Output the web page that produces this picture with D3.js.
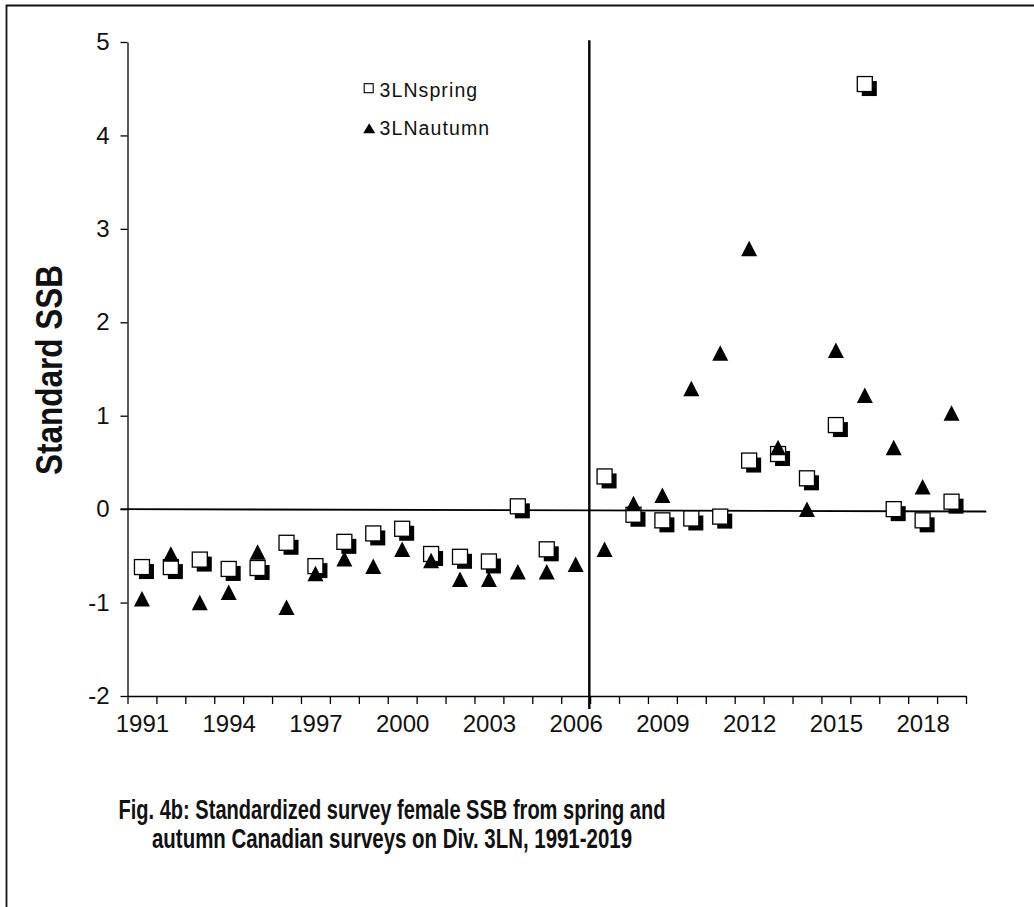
<!DOCTYPE html>
<html><head><meta charset="utf-8">
<script src="https://cdn.jsdelivr.net/npm/d3@7"></script>
<style>html,body{margin:0;padding:0;background:#fff;} svg{display:block;}</style>
</head><body>
<script>
// ---- data ----
const years = [1991,1992,1993,1994,1995,1996,1997,1998,1999,2000,2001,2002,2003,2004,2005,2006,2007,2008,2009,2010,2011,2012,2013,2014,2015,2016,2017,2018,2019];
const spring = [-0.62,-0.62,-0.54,-0.64,-0.63,-0.36,-0.61,-0.35,-0.26,-0.21,-0.48,-0.51,-0.56,0.03,-0.43,null,0.35,-0.06,-0.12,-0.10,-0.08,0.52,0.59,0.33,0.90,4.55,0.00,-0.12,0.08];
const autumn = [-0.96,-0.48,-1.00,-0.89,-0.46,-1.05,-0.69,-0.53,-0.61,-0.43,-0.55,-0.75,-0.75,-0.67,-0.67,-0.59,-0.43,0.06,0.15,1.29,1.67,2.79,0.66,0.00,1.70,1.22,0.66,0.24,1.03];
const yTicks = [-2,-1,0,1,2,3,4,5];
const xLabelYears = [1991,1994,1997,2000,2003,2006,2009,2012,2015,2018];
const seriesNames = ["3LNspring","3LNautumn"];
const yTitle = "Standard SSB";
const captionLines = ["Fig. 4b: Standardized survey female SSB from spring and","autumn Canadian surveys on Div. 3LN, 1991-2019"];
const splitYear = 2006.5;

// ---- layout ----
const W = 1034, H = 907;
const FONT = "'Liberation Sans', Arial, sans-serif";
const NARROW = "'Liberation Sans Narrow', 'Arial Narrow', 'Liberation Sans', Arial, sans-serif";

const svg = d3.select("body").append("svg").attr("width", W).attr("height", H);
svg.append("rect").attr("width", W).attr("height", H).attr("fill", "#fff");

const defs = svg.append("defs");
defs.append("filter").attr("id", "blur").attr("x", "-20%").attr("y", "-20%").attr("width", "140%").attr("height", "140%")
  .append("feGaussianBlur").attr("stdDeviation", 0.6);

// outer frame (top + left visible)
svg.append("path").attr("d", `M6.5,${H} V5.5 H${W}`).attr("fill", "none").attr("stroke", "#111").attr("stroke-width", 1.8);

const x = d3.scaleLinear().domain([years[0] - 0.5, years[years.length - 1] + 0.5]).range([127.5, 966]);
const y = d3.scaleLinear().domain([-2, 5]).range([696, 42]);

// y axis
const yAxis = svg.append("g").attr("transform", "translate(127.5,0)")
  .call(d3.axisLeft(y).tickValues(yTicks).tickSize(7).tickSizeOuter(0).tickPadding(11).tickFormat(d => String(d)));
yAxis.select(".domain").attr("stroke", "#000").attr("stroke-width", 1.3);
yAxis.selectAll(".tick line").attr("stroke", "#000").attr("stroke-width", 1.3);
yAxis.selectAll("text").attr("font-family", FONT).attr("font-size", 24).attr("fill", "#111");

// x axis (boundary ticks)
const boundaries = years.map(v => v - 0.5).concat([years[years.length - 1] + 0.5]);
const xAxis = svg.append("g").attr("transform", "translate(0,696)")
  .call(d3.axisBottom(x).tickValues(boundaries).tickSize(8).tickSizeOuter(0).tickFormat(""));
xAxis.select(".domain").attr("stroke", "#000").attr("stroke-width", 1.3);
xAxis.selectAll(".tick line").attr("stroke", "#000").attr("stroke-width", 1.3);

const xLab = svg.append("g").attr("transform", "translate(0,696)")
  .call(d3.axisBottom(x).tickValues(xLabelYears).tickSize(0).tickPadding(19).tickFormat(d => String(d)));
xLab.select(".domain").remove();
xLab.selectAll("text").attr("font-family", FONT).attr("font-size", 24).attr("fill", "#111");

// zero reference line (slightly sloped as in the original)
svg.append("line")
  .attr("x1", 120.5).attr("y1", y(0))
  .attr("x2", x(years[years.length - 1] + 1.2)).attr("y2", y(-0.025))
  .attr("stroke", "#000").attr("stroke-width", 1.8);

// vertical split line
svg.append("line")
  .attr("x1", x(splitYear) - 0.8).attr("x2", x(splitYear) - 0.8)
  .attr("y1", y(5.02)).attr("y2", 709)
  .attr("stroke", "#000").attr("stroke-width", 2.4);

// spring squares with shadow
const S = 15, OFF = 4.5;
const sp = years.map((yr, i) => ({ yr, v: spring[i] })).filter(d => d.v !== null);
const gS = svg.append("g");
sp.forEach(d => {
  const cx = x(d.yr), cy = y(d.v);
  gS.append("rect").attr("x", cx - S / 2 + OFF).attr("y", cy - S / 2 + OFF).attr("width", S).attr("height", S)
    .attr("fill", "#000").attr("filter", "url(#blur)");
  gS.append("rect").attr("x", cx - S / 2).attr("y", cy - S / 2).attr("width", S).attr("height", S)
    .attr("fill", "#fff").attr("stroke", "#000").attr("stroke-width", 1.3);
});

// autumn triangles
const tri = (cx, cy, w, h) => `M${cx},${cy - h / 2} L${cx + w / 2},${cy + h / 2} L${cx - w / 2},${cy + h / 2} Z`;
svg.append("g").selectAll("path").data(years.map((yr, i) => ({ yr, v: autumn[i] })))
  .join("path")
  .attr("d", d => tri(x(d.yr), y(d.v), 16, 15.5))
  .attr("fill", "#000");

// legend
const lg = svg.append("g");
lg.append("rect").attr("x", 364.2).attr("y", 83.7).attr("width", 9).attr("height", 9)
  .attr("fill", "#fff").attr("stroke", "#000").attr("stroke-width", 1.1);
lg.append("path").attr("d", tri(369.2, 128.3, 12, 10)).attr("fill", "#000");
lg.selectAll("text").data(seriesNames).join("text")
  .attr("x", 379.5).attr("y", (d, i) => i === 0 ? 96.8 : 135)
  .attr("font-family", FONT).attr("font-size", 19.5).attr("letter-spacing", 1.1).attr("fill", "#111")
  .text(d => d);

// y title
svg.append("text")
  .attr("transform", "translate(61.5,370) rotate(-90)")
  .attr("text-anchor", "middle")
  .attr("font-family", NARROW).attr("font-weight", "bold").attr("font-size", 36)
  .attr("textLength", 210).attr("lengthAdjust", "spacingAndGlyphs")
  .attr("fill", "#111")
  .text(yTitle);

// caption
const capLens = [547, 480];
svg.append("g").selectAll("text").data(captionLines).join("text")
  .attr("x", 392).attr("y", (d, i) => 819 + i * 28.5)
  .attr("text-anchor", "middle")
  .attr("font-family", NARROW).attr("font-weight", "bold").attr("font-size", 27.5)
  .attr("textLength", (d, i) => capLens[i]).attr("lengthAdjust", "spacingAndGlyphs")
  .attr("fill", "#111")
  .text(d => d);
</script>
</body></html>
